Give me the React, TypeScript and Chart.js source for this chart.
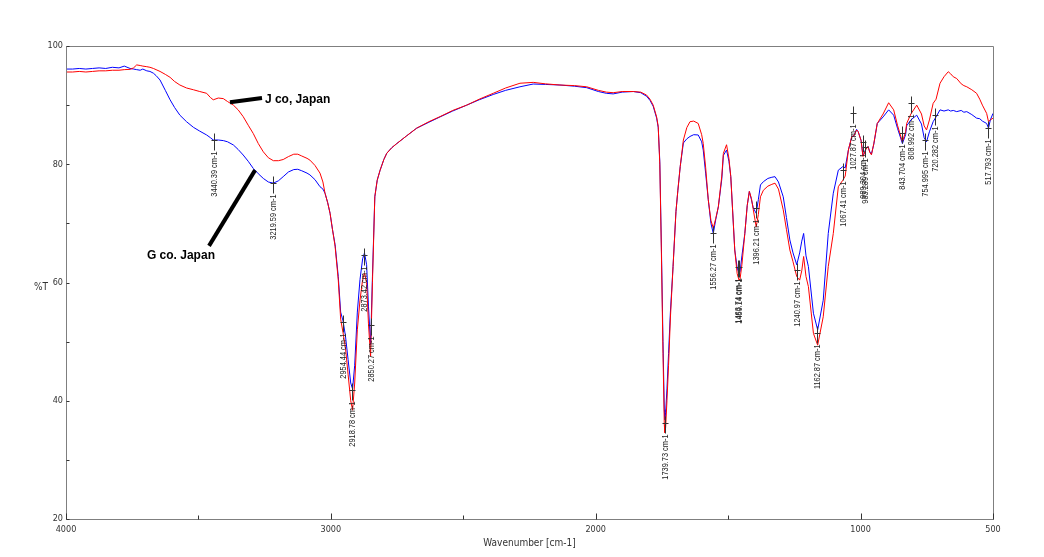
import React, { useEffect, useRef } from 'react';
import { Chart, registerables } from 'chart.js';

Chart.register(...registerables);

// ---- data ----
const wavenumbers = [
  4000, 3975, 3950, 3925, 3900, 3875, 3850, 3825, 3800, 3780, 3758, 3745, 3733, 3720, 3710, 3695, 3683, 3670, 3660, 3645,
  3625, 3607, 3590, 3570, 3545, 3519, 3495, 3469, 3455, 3444, 3425, 3406, 3390, 3368, 3350, 3331, 3312, 3293, 3274, 3255,
  3236, 3217, 3198, 3180, 3160, 3140, 3125, 3110, 3090, 3079, 3060, 3041, 3030, 3022, 3012, 3003, 2994, 2984, 2972, 2963,
  2954, 2945, 2935, 2925, 2918, 2910, 2900, 2890, 2880, 2873, 2865, 2858, 2850, 2843, 2834, 2825, 2814, 2800, 2789, 2770,
  2751, 2714, 2676, 2630, 2588, 2540, 2487, 2440, 2387, 2340, 2286, 2236, 2190, 2135, 2080, 2034, 1990, 1960, 1934, 1900,
  1858, 1830, 1808, 1795, 1783, 1770, 1764, 1758, 1752, 1746, 1741, 1739, 1736, 1731, 1725, 1718, 1708, 1697, 1690, 1681,
  1669, 1656, 1644, 1630, 1613, 1600, 1594, 1585, 1575, 1565, 1556, 1547, 1537, 1524, 1518, 1506, 1497, 1490, 1475, 1466,
  1459, 1455, 1448, 1437, 1428, 1420, 1412, 1405, 1394, 1386, 1378, 1367, 1350, 1335, 1323, 1310, 1292, 1280, 1267, 1255,
  1241, 1230, 1222, 1215, 1206, 1197, 1178, 1162, 1141, 1122, 1103, 1084, 1067, 1058, 1046, 1033, 1025, 1015, 1009, 998,
  991, 980, 972, 965, 959, 950, 937, 915, 894, 875, 860, 842, 830, 826, 810, 788, 770, 760, 751, 740,
  726, 715, 700, 685, 669, 660, 650, 637, 620, 610, 599, 580, 562, 550, 540, 524, 517, 510, 500,
];

const jCoJapan = [
  95.6, 95.6, 95.7, 95.6, 95.7, 95.8, 95.8, 95.9, 95.9, 96.0, 96.05, 96.3, 96.8, 96.7, 96.6, 96.5, 96.4, 96.2, 96.0, 95.7,
  95.2, 94.7, 94.0, 93.4, 92.9, 92.6, 92.3, 92.0, 91.3, 90.9, 91.2, 91.1, 90.6, 90.0, 89.2, 88.05, 86.6, 85.2, 83.5, 82.1,
  81.1, 80.6, 80.6, 80.8, 81.3, 81.7, 81.7, 81.4, 81.0, 80.7, 79.8, 78.5, 77.0, 75.1, 73.5, 71.7, 69.0, 66.1, 60.4, 53.8,
  51.5, 49.0, 44.5, 40.0, 38.4, 43.0, 52.0, 57.0, 60.5, 61.6, 60.0, 53.0, 47.5, 60.0, 74.5, 77.3, 79.0, 80.8, 81.85, 82.8,
  83.5, 84.8, 86.1, 87.2, 88.05, 89.1, 90.0, 91.0, 92.0, 92.9, 93.7, 93.85, 93.6, 93.4, 93.3, 93.1, 92.5, 92.2, 92.1, 92.3,
  92.3, 92.2, 91.7, 91.0, 90.0, 88.0, 86.4, 80.0, 65.0, 48.0, 36.0, 34.6, 35.5, 40.0, 46.0, 54.0, 62.7, 72.0, 75.5, 79.6,
  84.1, 86.2, 87.2, 87.3, 86.9, 85.0, 83.5, 79.5, 74.0, 70.5, 69.2, 70.8, 72.8, 78.0, 81.85, 83.3, 81.0, 77.9, 65.5, 61.5,
  60.4, 60.6, 63.0, 68.3, 73.0, 75.4, 74.2, 72.3, 69.4, 71.5, 74.5, 75.6, 76.3, 76.6, 76.8, 75.8, 72.3, 69.0, 65.5, 63.5,
  61.0, 60.4, 62.0, 64.4, 61.0, 59.3, 51.4, 49.4, 54.2, 62.7, 68.3, 76.2, 77.3, 78.0, 82.4, 84.7, 84.8, 85.8, 85.5, 84.0,
  81.3, 82.5, 83.0, 82.0, 81.6, 83.5, 86.9, 88.5, 90.4, 89.2, 86.5, 83.8, 85.5, 86.9, 88.5, 90.0, 88.5, 86.5, 85.8, 87.5,
  90.3, 91.0, 93.7, 94.8, 95.65, 95.3, 94.8, 94.5, 93.6, 93.3, 93.1, 92.6, 92.0, 91.0, 90.0, 88.6, 87.2, 87.5, 87.8,
];

const gCoJapan = [
  96.1, 96.1, 96.2, 96.1, 96.2, 96.3, 96.2, 96.4, 96.3, 96.6, 96.2, 96.1, 96.0, 95.9, 96.1, 95.8, 95.7, 95.4, 95.0, 94.25,
  92.5, 90.9, 89.6, 88.3, 87.2, 86.25, 85.6, 84.95, 84.5, 84.1, 84.1, 84.0, 83.8, 83.26, 82.5, 81.56, 80.5, 79.3, 78.4, 77.6,
  77.0, 76.8, 77.2, 77.9, 78.7, 79.1, 79.15, 78.9, 78.5, 78.2, 77.4, 76.2, 75.8, 75.1, 73.5, 71.7, 69.0, 66.4, 61.0, 55.0,
  53.5, 51.0, 47.0, 43.0, 42.0, 46.0, 55.0, 60.5, 64.0, 65.0, 63.0, 56.0, 49.5, 61.0, 74.5, 77.3, 79.0, 80.8, 81.85, 82.8,
  83.5, 84.8, 86.1, 87.1, 88.0, 89.0, 90.0, 90.9, 91.8, 92.5, 93.1, 93.57, 93.5, 93.4, 93.2, 92.95, 92.3, 92.0, 91.9, 92.2,
  92.3, 92.1, 91.5, 90.8, 89.8, 87.8, 86.2, 80.5, 66.0, 50.0, 38.5, 36.8, 38.0, 42.0, 48.0, 55.0, 62.7, 72.0, 75.5, 79.6,
  83.6, 84.3, 84.7, 85.0, 84.95, 83.8, 82.4, 78.5, 74.0, 70.0, 68.3, 70.6, 72.8, 77.5, 81.5, 82.4, 80.5, 77.9, 65.5, 62.5,
  61.5, 61.8, 64.5, 68.3, 73.0, 75.4, 74.0, 72.6, 71.7, 74.0, 76.5, 77.05, 77.6, 77.8, 77.9, 77.0, 74.5, 71.0, 67.2, 65.0,
  63.0, 65.0, 67.0, 68.3, 64.5, 62.7, 54.8, 52.0, 57.0, 68.3, 75.1, 79.0, 79.6, 79.4, 82.4, 84.7, 84.8, 85.9, 85.5, 84.0,
  81.4, 82.6, 83.0, 82.1, 81.7, 83.4, 86.9, 88.0, 89.2, 88.3, 86.0, 83.5, 85.0, 86.5, 87.5, 88.3, 86.8, 84.5, 83.8, 85.5,
  87.2, 88.0, 89.2, 89.0, 89.2, 89.0, 89.1, 88.9, 89.1, 88.8, 88.9, 88.4, 87.8, 87.7, 87.3, 86.9, 86.1, 87.5, 88.6,
];

const xTickLabels = [4000, 3000, 2000, 1000, 500];
const yTickLabels = [100, 80, 60, 40, 20];

const peakWavenumbers = [
  3440.39, 3219.59, 2954.44, 2918.78, 2873.42, 2850.27, 1739.73, 1556.27, 1463.74, 1459.14,
  1396.21, 1240.97, 1162.87, 1067.41, 1027.87, 989.304, 983.289, 843.704, 808.992, 754.995, 720.282, 517.793,
];
const peakLevels = [
  84.1, 76.8, 53.3, 41.8, 64.65, 52.8, 36.2, 68.4, 62.6, 62.6,
  72.6, 62.1, 51.5, 79.0, 88.7, 83.8, 82.9, 85.3, 90.4, 84.1, 88.3, 86.1,
];
const peakTexts = [
  '3440.39 cm-1', '3219.59 cm-1', '2954.44 cm-1', '2918.78 cm-1', '2873.42 cm-1', '2850.27 cm-1',
  '1739.73 cm-1', '1556.27 cm-1', '1463.74 cm-1', '1459.14 cm-1', '1396.21 cm-1', '1240.97 cm-1',
  '1162.87 cm-1', '1067.41 cm-1', '1027.87 cm-1', '989.304 cm-1', '983.289 cm-1', '843.704 cm-1',
  '808.992 cm-1', '754.995 cm-1', '720.282 cm-1', '517.793 cm-1',
];

// series callouts
const calloutTexts = ['J co, Japan', 'G co. Japan'];
const calloutTextWn = [3249, 3566];
const calloutTextVal = [90.9, 64.5];
const calloutFromWn = [3381, 3286];
const calloutFromVal = [90.5, 79.0];
const calloutToWn = [3260, 3460];
const calloutToVal = [91.2, 66.2];

const NARROW = "'Liberation Sans Narrow', 'DejaVu Sans Condensed', 'Arial Narrow', Arial, sans-serif";
const LABEL_FONT = "9px 'Liberation Sans', Arial, sans-serif";

const overlayPlugin = {
  id: 'irOverlay',
  afterDatasetsDraw(chart: any) {
    const { ctx, chartArea: a, scales } = chart;
    const x = scales.x;
    const y = scales.y;
    ctx.save();

    // frame
    ctx.strokeStyle = '#7f7f7f';
    ctx.lineWidth = 1;
    const l = Math.round(a.left) + 0.5;
    const t = Math.round(a.top) + 0.5;
    const r = Math.round(a.right) + 0.5;
    const b = Math.round(a.bottom) + 0.5;
    ctx.beginPath();
    ctx.rect(l, t, r - l, b - t);
    ctx.stroke();

    // inward tick marks
    ctx.strokeStyle = '#333';
    ctx.beginPath();
    y.ticks.forEach((tk: any) => {
      const py = Math.round(y.getPixelForValue(tk.value)) + 0.5;
      ctx.moveTo(l, py);
      ctx.lineTo(l + 3, py);
    });
    x.ticks.forEach((tk: any) => {
      const px = Math.round(x.getPixelForValue(tk.value)) + 0.5;
      const len = xTickLabels.includes(tk.value) ? 6 : 4;
      ctx.moveTo(px, b);
      ctx.lineTo(px, b - len);
    });
    ctx.stroke();

    // %T label
    ctx.fillStyle = '#333';
    ctx.font = `10px ${NARROW}`;
    ctx.textAlign = 'center';
    ctx.textBaseline = 'middle';
    ctx.fillText('%T', a.left - 25, y.getPixelForValue(60) + 5);

    // peak markers + rotated labels
    peakWavenumbers.forEach((wn, i) => {
      const px = Math.round(x.getPixelForValue(wn)) + 0.5;
      const py = Math.round(y.getPixelForValue(peakLevels[i])) + 0.5;
      ctx.strokeStyle = '#333';
      ctx.lineWidth = 1;
      ctx.beginPath();
      ctx.moveTo(px, py - 7);
      ctx.lineTo(px, py + 10);
      ctx.moveTo(px - 3, py);
      ctx.lineTo(px + 3, py);
      ctx.stroke();
      ctx.save();
      ctx.translate(px, py + 11);
      ctx.rotate(-Math.PI / 2);
      ctx.scale(0.82, 1);
      ctx.font = LABEL_FONT;
      ctx.textAlign = 'right';
      ctx.textBaseline = 'middle';
      ctx.fillStyle = '#222';
      ctx.fillText(peakTexts[i], 0, 0);
      ctx.restore();
    });

    // series callouts
    ctx.strokeStyle = '#000';
    ctx.lineWidth = 4;
    ctx.lineCap = 'butt';
    calloutTexts.forEach((txt, i) => {
      ctx.beginPath();
      ctx.moveTo(x.getPixelForValue(calloutFromWn[i]), y.getPixelForValue(calloutFromVal[i]));
      ctx.lineTo(x.getPixelForValue(calloutToWn[i]), y.getPixelForValue(calloutToVal[i]));
      ctx.stroke();
      ctx.font = "bold 12px 'Liberation Sans', Arial, sans-serif";
      ctx.fillStyle = '#000';
      ctx.textBaseline = 'middle';
      ctx.textAlign = i === 0 ? 'left' : 'center';
      ctx.fillText(txt, x.getPixelForValue(calloutTextWn[i]), y.getPixelForValue(calloutTextVal[i]));
    });

    ctx.restore();
  },
};

export default function App() {
  const ref = useRef<HTMLCanvasElement | null>(null);

  useEffect(() => {
    document.body.style.margin = '0';
    const canvas = ref.current;
    if (!canvas) return;
    const chart = new Chart(canvas, {
      type: 'line',
      data: {
        datasets: [
          {
            label: 'J co, Japan',
            data: wavenumbers.map((w, i) => ({ x: w, y: jCoJapan[i] })),
            borderColor: '#ff0000',
            borderWidth: 1,
            pointRadius: 0,
            tension: 0,
          },
          {
            label: 'G co. Japan',
            data: wavenumbers.map((w, i) => ({ x: w, y: gCoJapan[i] })),
            borderColor: '#0000ff',
            borderWidth: 1,
            pointRadius: 0,
            tension: 0,
          },
        ],
      },
      options: {
        animation: false,
        responsive: false,
        devicePixelRatio: 1,
        layout: { padding: { left: 0, right: 51, top: 46, bottom: 0 } },
        plugins: { legend: { display: false }, tooltip: { enabled: false } },
        scales: {
          x: {
            type: 'linear',
            reverse: true,
            min: 500,
            max: 4000,
            grid: { display: false, drawTicks: false },
            border: { display: false },
            ticks: {
              stepSize: 500,
              autoSkip: false,
              maxRotation: 0,
              padding: 5,
              color: '#333',
              font: { size: 9, family: NARROW },
              callback: (v: any) => (xTickLabels.includes(Number(v)) ? String(v) : ''),
            },
            title: {
              display: true,
              text: 'Wavenumber [cm-1]',
              color: '#333',
              font: { size: 10, family: NARROW },
              padding: { top: 0, bottom: 8 },
            },
            afterFit: (s: any) => {
              s.height = 38;
            },
          },
          y: {
            min: 20,
            max: 100,
            grid: { display: false, drawTicks: false },
            border: { display: false },
            ticks: {
              stepSize: 10,
              autoSkip: false,
              padding: 3,
              color: '#333',
              font: { size: 9, family: NARROW },
              callback: (v: any) => (yTickLabels.includes(Number(v)) ? String(v) : ''),
            },
            afterFit: (s: any) => {
              s.width = 66;
            },
          },
        },
      },
      plugins: [overlayPlugin],
    });
    return () => chart.destroy();
  }, []);

  return <canvas ref={ref} width={1044} height={557} style={{ display: 'block' }} />;
}
